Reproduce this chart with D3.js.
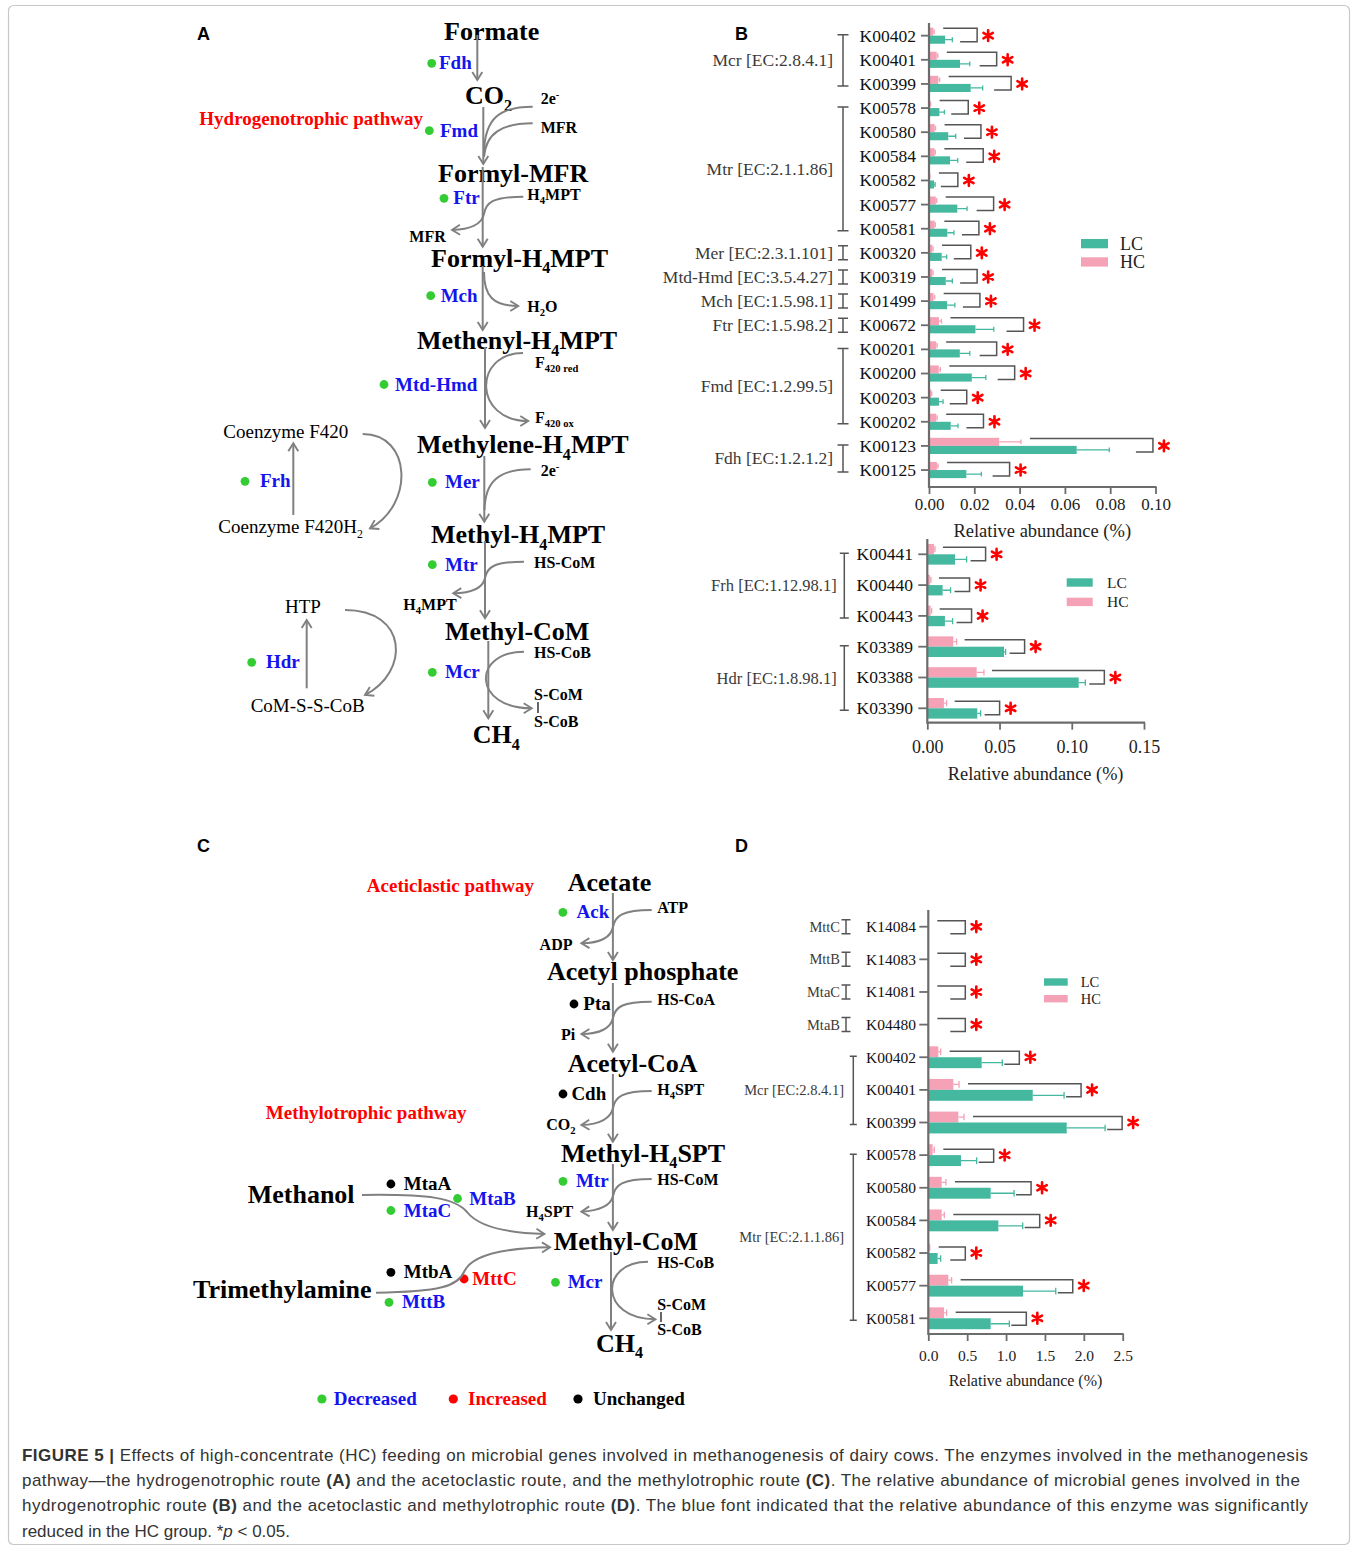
<!DOCTYPE html>
<html>
<head>
<meta charset="utf-8">
<script src="https://cdn.jsdelivr.net/npm/d3@7"></script>
<style>
  body { margin: 0; background: #fff; }
  svg { display: block; }
</style>
</head>
<body>
<script>
// ---------- data: hydrogenotrophic genes (panel B, upper) ----------
const hydroKO = ["K00402","K00401","K00399","K00578","K00580","K00584","K00582","K00577","K00581",
                 "K00320","K00319","K01499","K00672","K00201","K00200","K00203","K00202","K00123","K00125"];
const hydroLC   = [0.0071,0.0137,0.0184,0.0046,0.0085,0.0093,0.0022,0.0125,0.0081,0.0056,0.0074,0.0080,0.0205,0.0136,0.0189,0.0044,0.0096,0.0652,0.0165];
const hydroLCsd = [0.0032,0.0043,0.0053,0.0022,0.0033,0.0034,0.0005,0.0043,0.0029,0.0022,0.0029,0.0034,0.0081,0.0044,0.0062,0.0018,0.0032,0.0144,0.0066];
const hydroHC   = [0.0019,0.0034,0.0041,0.0005,0.0025,0.0025,0.0003,0.0030,0.0025,0.0015,0.0015,0.0020,0.0044,0.0032,0.0043,0.0010,0.0032,0.0310,0.0035];
const hydroHCsd = [0.0004,0.0005,0.0006,0.0002,0.0004,0.0003,0.0001,0.0004,0.0003,0.0003,0.0003,0.0005,0.0011,0.0004,0.0007,0.0002,0.0004,0.0096,0.0005];
const hydroGroups = [
  ["Mcr [EC:2.8.4.1]", "K00402", "K00399"],
  ["Mtr [EC:2.1.1.86]", "K00578", "K00581"],
  ["Mer [EC:2.3.1.101]", "K00320", "K00320"],
  ["Mtd-Hmd [EC:3.5.4.27]", "K00319", "K00319"],
  ["Mch [EC:1.5.98.1]", "K01499", "K01499"],
  ["Ftr [EC:1.5.98.2]", "K00672", "K00672"],
  ["Fmd [EC:1.2.99.5]", "K00201", "K00202"],
  ["Fdh [EC:1.2.1.2]", "K00123", "K00125"]
];
const hydroTicks = [0, 0.02, 0.04, 0.06, 0.08, 0.10];

// ---------- data: Frh / Hdr genes (panel B, lower) ----------
const frhKO = ["K00441","K00440","K00443","K03389","K03388","K03390"];
const frhLC   = [0.0192,0.0106,0.0122,0.0531,0.1048,0.0346];
const frhLCsd = [0.0080,0.0055,0.0053,0.0011,0.0046,0.0023];
const frhHC   = [0.0046,0.0018,0.0023,0.0180,0.0342,0.0115];
const frhHCsd = [0.0007,0.0007,0.0007,0.0023,0.0050,0.0019];
const frhGroups = [
  ["Frh [EC:1.12.98.1]", "K00441", "K00443"],
  ["Hdr [EC:1.8.98.1]", "K03389", "K03390"]
];
const frhTicks = [0, 0.05, 0.10, 0.15];

// ---------- data: acetoclastic / methylotrophic genes (panel D) ----------
const methKO = ["K14084","K14083","K14081","K04480","K00402","K00401","K00399",
                "K00578","K00580","K00584","K00582","K00577","K00581"];
const methLC   = [0,0,0,0,0.686,1.343,1.780,0.420,0.802,0.901,0.120,1.218,0.802];
const methLCsd = [0,0,0,0,0.266,0.403,0.494,0.202,0.301,0.313,0.039,0.421,0.240];
const methHC   = [0,0,0,0,0.129,0.322,0.386,0.056,0.172,0.172,0.013,0.257,0.202];
const methHCsd = [0,0,0,0,0.030,0.073,0.073,0.021,0.055,0.034,0.005,0.043,0.034];
const methGroups = [
  ["MttC", "K14084", "K14084"],
  ["MttB", "K14083", "K14083"],
  ["MtaC", "K14081", "K14081"],
  ["MtaB", "K04480", "K04480"],
  ["Mcr [EC:2.8.4.1]", "K00402", "K00399"],
  ["Mtr [EC:2.1.1.86]", "K00578", "K00581"]
];
const methTicks = [0, 0.5, 1.0, 1.5, 2.0, 2.5];

// every gene differs between groups at p < 0.05
const sigMark = "*";

// enzyme response to HC feeding: dec = decreased, inc = increased, unc = unchanged
const enzymeStatus = {
  Fdh: "dec", Fmd: "dec", Ftr: "dec", Mch: "dec", "Mtd-Hmd": "dec", Mer: "dec",
  Mtr: "dec", Mcr: "dec", Frh: "dec", Hdr: "dec",
  Ack: "dec", Pta: "unc", Cdh: "unc", MtaA: "unc", MtaB: "dec", MtaC: "dec",
  MtbA: "unc", MttC: "inc", MttB: "dec"
};

// ---------- styling ----------
const SERIF = '"Liberation Serif", "Times New Roman", Times, serif';
const SANS = '"Liberation Sans", Arial, Helvetica, sans-serif';
const LC = "#45b8a0", HC = "#f5a2b6";
const AXIS = "#6c6c6c", GRAY = "#808080";
const BLUE = "#1414ee", RED = "#ff0000", GREEN = "#33cc33";
const statusDot = { dec: GREEN, inc: RED, unc: "#000" };
const statusText = { dec: BLUE, inc: RED, unc: "#000" };

const svg = d3.select("body").append("svg")
  .attr("width", 1357).attr("height", 1548);
svg.append("rect").attr("width", 1357).attr("height", 1548).attr("fill", "#fff");
svg.append("rect").attr("x", 8.5).attr("y", 5.5).attr("width", 1341).attr("height", 1539)
  .attr("rx", 5).attr("fill", "none").attr("stroke", "#c8c8c8").attr("stroke-width", 1.2);

const defs = svg.append("defs");
defs.append("marker").attr("id", "arr")
  .attr("viewBox", "-10 -7 12 14").attr("refX", 0).attr("refY", 0)
  .attr("markerWidth", 12).attr("markerHeight", 14)
  .attr("markerUnits", "userSpaceOnUse").attr("orient", "auto")
  .append("path").attr("d", "M-8,-5 L0,0 L-8,5")
  .attr("fill", "none").attr("stroke", GRAY).attr("stroke-width", 1.9);

// ---------- panel letters ----------
[["A", 197, 39.5], ["B", 735, 40], ["C", 197, 852], ["D", 735, 852]].forEach(([t, x, y]) =>
  svg.append("text").attr("x", x).attr("y", y).attr("font-family", SANS)
    .attr("font-weight", "bold").attr("font-size", 18).text(t));

// ---------- text with sub/superscripts: "H_{4}MPT", "2e^{-}" ----------
function rich(g, x, y, str, size, opt = {}) {
  const t = g.append("text").attr("x", x).attr("y", y).attr("font-size", size)
    .attr("font-weight", opt.weight || "bold").attr("fill", opt.fill || "#000");
  let off = 0;
  const re = /([_^])\{([^}]*)\}|([^_^]+)/g;
  let m;
  while ((m = re.exec(str))) {
    if (m[3]) {
      t.append("tspan").attr("dy", -off).text(m[3]);
      off = 0;
    } else {
      const s = m[1] === "_" ? size * 0.26 : -size * 0.4;
      t.append("tspan").attr("dy", s - off).attr("font-size", size * (opt.sub || 0.62)).text(m[2]);
      off = s;
    }
  }
  return t;
}

function arrowLine(g, d, head = true) {
  const p = g.append("path").attr("d", d).attr("fill", "none")
    .attr("stroke", GRAY).attr("stroke-width", 2);
  if (head) p.attr("marker-end", "url(#arr)");
  return p;
}

function enzyme(g, name, x, y, dotX) {
  const st = enzymeStatus[name];
  g.append("circle").attr("cx", dotX).attr("cy", y - 6).attr("r", 4.4).attr("fill", statusDot[st]);
  rich(g, x, y, name, 19, { fill: statusText[st] });
}

// ---------- panel A: hydrogenotrophic pathway ----------
const gA = svg.append("g").attr("font-family", SERIF);
[
  ["Formate", 444, 39.5], ["CO_{2}", 465, 104], ["Formyl-MFR", 438, 181.7],
  ["Formyl-H_{4}MPT", 431, 266.7], ["Methenyl-H_{4}MPT", 417, 349.3],
  ["Methylene-H_{4}MPT", 417, 453.3], ["Methyl-H_{4}MPT", 431, 543.3],
  ["Methyl-CoM", 445, 640], ["CH_{4}", 472.7, 743.3]
].forEach(([t, x, y]) => rich(gA, x, y, t, 26));

[
  ["2e^{-}", 540.7, 104], ["MFR", 540.7, 132.7], ["H_{4}MPT", 527.3, 200], ["MFR", 409.3, 241.7],
  ["H_{2}O", 527.3, 311.7], ["F_{420 red}", 535, 368.3], ["F_{420 ox}", 535, 423.3],
  ["2e^{-}", 540.7, 476], ["HS-CoM", 534, 568.3], ["H_{4}MPT", 403.3, 610],
  ["HS-CoB", 534, 658.3], ["S-CoM", 534, 700], ["S-CoB", 534, 726.7]
].forEach(([t, x, y]) => rich(gA, x, y, t, 16, { sub: 0.66 }));
gA.append("line").attr("x1", 538).attr("x2", 538).attr("y1", 702).attr("y2", 713)
  .attr("stroke", "#000").attr("stroke-width", 1.2);

[
  ["Coenzyme F420", 223.3, 438.3], ["Coenzyme F420H_{2}", 218.3, 532.7],
  ["HTP", 285, 613.3], ["CoM-S-S-CoB", 250.7, 711.7]
].forEach(([t, x, y]) => rich(gA, x, y, t, 19, { weight: "normal" }));

rich(gA, 199.3, 125, "Hydrogenotrophic pathway", 19, { fill: RED });

[
  ["Fdh", 439, 69.3, 431.7], ["Fmd", 440, 136.7, 429.3], ["Ftr", 453.3, 204.3, 444],
  ["Mch", 440.7, 301.7, 430.7], ["Mtd-Hmd", 395, 390.5, 384], ["Mer", 445, 488.3, 432.3],
  ["Mtr", 445, 570.7, 432.3], ["Mcr", 445, 678.3, 432.3], ["Frh", 260, 487.3, 245],
  ["Hdr", 266, 668.3, 251.7]
].forEach(([n, x, y, dx]) => enzyme(gA, n, x, y, dx));

// main chain and side reactions
[
  "M477.3,35 V80", "M483.3,107 V164", "M482.7,167 V246.7", "M482.7,266 V330",
  "M485,347 V428", "M484.3,456 V521.7", "M485,541 V618.3", "M488.3,641 V718.3",
  "M293.3,515 V443.3", "M306.7,688.3 V620"
].forEach(d => arrowLine(gA, d));
[
  "M532.7,106.7 C500,106.7 485,118 484,152",
  "M532.7,123.3 C502,123.3 486,133 484,157"
].forEach(d => arrowLine(gA, d, false));
[
  "M523.3,196.7 C492,196.7 486,203 484,214 C482,224 470,229.5 452,230",
  "M484,272 C484,296 493,306 518.3,306",
  "M523,353 C473,353 473,421 528.3,421",
  "M524,561.7 C494,561.7 487,567 485,578 C483,588 471,593 453.3,593.3",
  "M524,651.7 C472,651.7 472,708.3 531.7,708.3",
  "M362.7,434 C412,434 414,505 370,528.3",
  "M345,610 C408,610 410,672 365,695"
].forEach(d => arrowLine(gA, d));
arrowLine(gA, "M530.7,469.3 C498,469.3 485,482 484.5,510", false);

// ---------- panel C: aceticlastic and methylotrophic pathways ----------
const gC = svg.append("g").attr("font-family", SERIF);
[
  ["Acetate", 567.7, 890.7], ["Acetyl phosphate", 547, 980], ["Acetyl-CoA", 567.7, 1071.7],
  ["Methyl-H_{4}SPT", 561, 1161.7], ["Methyl-CoM", 553.7, 1250], ["CH_{4}", 596, 1351.7],
  ["Methanol", 247.7, 1203.3], ["Trimethylamine", 193, 1298.3]
].forEach(([t, x, y]) => rich(gC, x, y, t, 26));

[
  ["ATP", 657.2, 913.3], ["ADP", 539.6, 950], ["HS-CoA", 657.2, 1005], ["Pi", 561, 1040],
  ["H_{4}SPT", 657.2, 1095], ["CO_{2}", 546.3, 1130], ["HS-CoM", 657.2, 1184.5],
  ["H_{4}SPT", 526, 1217.3], ["HS-CoB", 657.2, 1268], ["S-CoM", 657.2, 1310],
  ["S-CoB", 657.2, 1335]
].forEach(([t, x, y]) => rich(gC, x, y, t, 16, { sub: 0.66 }));
gC.append("line").attr("x1", 661).attr("x2", 661).attr("y1", 1312).attr("y2", 1322)
  .attr("stroke", "#000").attr("stroke-width", 1.2);

rich(gC, 366.8, 891.7, "Aceticlastic pathway", 19, { fill: RED });
rich(gC, 265.8, 1119.3, "Methylotrophic pathway", 19, { fill: RED });

[
  ["Ack", 576.6, 918.3, 562.9], ["Pta", 583.3, 1010, 574], ["Cdh", 571.4, 1100, 563],
  ["Mtr", 575.9, 1187.3, 563], ["Mcr", 567.7, 1288.3, 555.5],
  ["MtaA", 403.8, 1190, 390.9], ["MtaC", 403.8, 1216.5, 390.9], ["MtaB", 469.3, 1204.5, 457.5],
  ["MtbA", 403.8, 1278.3, 390.9], ["MttC", 472.3, 1285, 464.1], ["MttB", 402, 1308.3, 389]
].forEach(([n, x, y, dx]) => enzyme(gC, n, x, y, dx));

[
  "M612.9,893 V960", "M612.9,983 V1051.7", "M612.9,1074 V1141.7",
  "M612.9,1164 V1230", "M611,1252 V1330",
  "M651.7,910 C622,910 615,916 613,927 C611,937 600,943 581.4,943.3",
  "M651.7,1001.7 C622,1001.7 615,1007 613,1018 C611,1028 600,1034 581.4,1034",
  "M651.7,1091 C622,1091 615,1097 613,1108 C611,1118 600,1124.5 581.4,1125",
  "M651.7,1179 C622,1179 615,1185 613,1196 C611,1205 600,1211 581.4,1211.7",
  "M648,1261.7 C599,1261.7 599,1319.3 655.4,1319.3",
  "M362,1195 C430,1194 455,1198 467,1212 C478,1226 505,1233 544.4,1234",
  "M376,1292.7 C440,1292 458,1286 464,1272 C472,1254 505,1248 550,1247.3"
].forEach(d => arrowLine(gC, d));

// status legend
[["dec", "Decreased", 321.9, 333.7], ["inc", "Increased", 453.3, 468], ["unc", "Unchanged", 578, 593]]
  .forEach(([s, t, dx, tx]) => {
    gC.append("circle").attr("cx", dx).attr("cy", 1399).attr("r", 4.6).attr("fill", statusDot[s]);
    rich(gC, tx, 1405, t, 19, { fill: statusText[s] });
  });

// ---------- grouped horizontal bar chart ----------
function starPath(cx, cy, r) {
  const p = d3.path();
  for (let i = 0; i < 3; i++) {
    const a = Math.PI / 2 + i * Math.PI / 3;
    p.moveTo(cx + r * Math.cos(a), cy + r * Math.sin(a));
    p.lineTo(cx - r * Math.cos(a), cy - r * Math.sin(a));
  }
  return p.toString();
}

function barPanel(o) {
  const g = svg.append("g").attr("font-family", SERIF);
  const x = d3.scaleLinear().domain([0, o.max]).range(o.xr);
  const y = d3.scaleBand().domain(o.ko).range(o.yr);
  const st = y.step(), bh = st * 0.335, x0 = x(0);
  const c = k => y(k) + st / 2;
  const rows = o.ko.map((k, i) => ({
    k, lc: o.lc[i], lcSd: o.lcSd[i], hc: o.hc[i], hcSd: o.hcSd[i]
  }));

  // bars
  g.selectAll("rect.hc").data(rows.filter(d => d.hc > 0)).join("rect")
    .attr("x", x0).attr("y", d => c(d.k) - bh)
    .attr("width", d => x(d.hc) - x0).attr("height", bh).attr("fill", HC);
  g.selectAll("rect.lc").data(rows.filter(d => d.lc > 0)).join("rect")
    .attr("x", x0).attr("y", d => c(d.k))
    .attr("width", d => x(d.lc) - x0).attr("height", bh).attr("fill", LC);

  // error bars
  const cap = bh * 0.3;
  const err = (v, sd, yc) => {
    const a = x(v), b = x(v + sd);
    return `M${a},${yc} H${b} M${b},${yc - cap} V${yc + cap}`;
  };
  g.selectAll("path.ehc").data(rows.filter(d => d.hcSd > 0)).join("path")
    .attr("d", d => err(d.hc, d.hcSd, c(d.k) - bh / 2))
    .attr("stroke", HC).attr("stroke-width", 1.3).attr("fill", "none");
  g.selectAll("path.elc").data(rows.filter(d => d.lcSd > 0)).join("path")
    .attr("d", d => err(d.lc, d.lcSd, c(d.k) + bh / 2))
    .attr("stroke", LC).attr("stroke-width", 1.3).attr("fill", "none");

  // significance brackets and stars
  const br = rows.map(d => {
    const le = x(d.lc + d.lcSd), he = x(d.hc + d.hcSd);
    const reach = Math.max(le - x0 + o.pad(le - x0), o.minReach || 0);
    const r = x0 + reach;
    return { k: d.k, r, tl: he + o.topGap, bl: r - o.botLen };
  });
  g.selectAll("path.br").data(br).join("path")
    .attr("d", d => `M${d.tl},${c(d.k) - o.up} H${d.r} V${c(d.k) + o.dn} H${d.bl}`)
    .attr("fill", "none").attr("stroke", "#555").attr("stroke-width", 1.5);
  g.selectAll("path.star").data(br).join("path")
    .attr("d", d => starPath(d.r + 11, c(d.k), 5.4))
    .attr("stroke", RED).attr("stroke-width", 2.6).attr("stroke-linecap", "round")
    .attr("aria-label", sigMark);

  // y axis (gene labels)
  const ya = g.append("g").attr("transform", `translate(${x0},0)`)
    .call(d3.axisLeft(y).tickSize(o.tickLen).tickSizeOuter(0));
  ya.select(".domain").remove();
  ya.selectAll(".tick line").attr("stroke", AXIS).attr("stroke-width", 1.8);
  ya.selectAll(".tick text").attr("x", o.koEnd - x0).attr("dy", "0.34em")
    .attr("font-family", SERIF).attr("font-size", o.koFont).attr("fill", "#111");

  // x axis
  const xa = g.append("g").attr("transform", `translate(0,${o.axisY})`)
    .call(d3.axisBottom(x).tickValues(o.ticks).tickFormat(d3.format(o.fmt)).tickSize(7).tickSizeOuter(0));
  xa.select(".domain").remove();
  xa.selectAll(".tick line").attr("stroke", AXIS).attr("stroke-width", 1.8);
  xa.selectAll(".tick text").attr("y", o.tickBase - o.axisY).attr("dy", null)
    .attr("font-family", SERIF).attr("font-size", o.tickFont).attr("fill", "#222");

  g.append("path").attr("d", `M${x0},${o.yTop} V${o.axisY} H${o.xr[1] + 1}`)
    .attr("fill", "none").attr("stroke", AXIS).attr("stroke-width", 2.2);

  g.append("text").attr("x", (o.xr[0] + o.xr[1]) / 2).attr("y", o.titleBase)
    .attr("text-anchor", "middle").attr("font-size", o.titleFont).attr("fill", "#222")
    .text("Relative abundance (%)");

  // enzyme groups
  o.groups.forEach(([name, a, b]) => {
    const single = a === b;
    const bx = single ? o.gx1 : o.gxN;
    const ya0 = single ? c(a) - 7 : c(a) - 1;
    const yb0 = single ? c(a) + 7 : c(b) + 2;
    const hw = single ? o.cap1 : o.capN;
    g.append("path")
      .attr("d", `M${bx - hw},${ya0} H${bx + hw} M${bx},${ya0} V${yb0} M${bx - hw},${yb0} H${bx + hw}`)
      .attr("fill", "none").attr("stroke", "#555").attr("stroke-width", 1.5);
    g.append("text").attr("x", bx - (single ? o.lg1 : o.lgN))
      .attr("y", (ya0 + yb0) / 2).attr("dy", "0.34em").attr("text-anchor", "end")
      .attr("font-size", o.grpFont).attr("fill", "#3a3a3a").text(name);
  });

  // legend
  [["LC", LC, o.leg.yLC], ["HC", HC, o.leg.yHC]].forEach(([t, col, yy]) => {
    g.append("rect").attr("x", o.leg.x).attr("y", yy).attr("width", o.leg.w).attr("height", o.leg.h)
      .attr("fill", col);
    g.append("text").attr("x", o.leg.tx).attr("y", yy + o.leg.h / 2).attr("dy", "0.35em")
      .attr("font-size", o.leg.font).attr("fill", "#222").text(t);
  });
}

barPanel({
  ko: hydroKO, lc: hydroLC, lcSd: hydroLCsd, hc: hydroHC, hcSd: hydroHCsd, groups: hydroGroups,
  max: 0.10, xr: [929, 1155.5], yr: [23.6, 482.1], yTop: 23, axisY: 487,
  ticks: hydroTicks, fmt: ".2f", tickBase: 510, tickFont: 17, titleBase: 536.5, titleFont: 18.5,
  tickLen: 8, koEnd: 916, koFont: 17.5,
  pad: px => 22 + 0.12 * px, topGap: 9, botLen: 17, up: 7.5, dn: 6,
  gx1: 843, gxN: 843, cap1: 5, capN: 5.5, lg1: 10, lgN: 10, grpFont: 17.5,
  leg: { x: 1081, w: 27, h: 9.3, yLC: 239, yHC: 257.3, tx: 1120, font: 18 }
});

barPanel({
  ko: frhKO, lc: frhLC, lcSd: frhLCsd, hc: frhHC, hcSd: frhHCsd, groups: frhGroups,
  max: 0.15, xr: [927.3, 1144], yr: [538.9, 723.7], yTop: 539, axisY: 722.7,
  ticks: frhTicks, fmt: ".2f", tickBase: 752.7, tickFont: 18, titleBase: 780, titleFont: 18.3,
  tickLen: 9, koEnd: 913, koFont: 17.5,
  pad: () => 19, topGap: 8, botLen: 15, up: 7, dn: 6.5,
  gx1: 844.3, gxN: 844.3, cap1: 4.5, capN: 4.5, lg1: 7.6, lgN: 7.6, grpFont: 16.5,
  leg: { x: 1066.7, w: 26, h: 8.4, yLC: 578.3, yHC: 597.7, tx: 1107, font: 15.5 }
});

barPanel({
  ko: methKO, lc: methLC, lcSd: methLCsd, hc: methHC, hcSd: methHCsd, groups: methGroups,
  max: 2.5, xr: [928.3, 1122.7], yr: [910.4, 1334.6], yTop: 910, axisY: 1334,
  ticks: methTicks, fmt: ".1f", tickBase: 1361, tickFont: 15.5, titleBase: 1385.5, titleFont: 16,
  tickLen: 9, koEnd: 916, koFont: 15.5,
  pad: () => 17, minReach: 37, topGap: 9, botLen: 15, up: 6, dn: 7,
  gx1: 846, gxN: 853.3, cap1: 4.5, capN: 3.5, lg1: 6, lgN: 9.3, grpFont: 14.5,
  leg: { x: 1044, w: 23.7, h: 7.4, yLC: 978.3, yHC: 995, tx: 1080.7, font: 14.5 }
});

// ---------- figure caption ----------
const cap = svg.append("g").attr("font-family", SANS).attr("font-size", 17).attr("fill", "#333");
const capLines = [
  [[["b", "FIGURE 5 |"], ["", " Effects of high-concentrate (HC) feeding on microbial genes involved in methanogenesis of dairy cows. The enzymes involved in the methanogenesis"]], 1286],
  [[["", "pathway\u2014the hydrogenotrophic route "], ["b", "(A)"], ["", " and the acetoclastic route, and the methylotrophic route "], ["b", "(C)"], ["", ". The relative abundance of microbial genes involved in the"]], 1278],
  [[["", "hydrogenotrophic route "], ["b", "(B)"], ["", " and the acetoclastic and methylotrophic route "], ["b", "(D)"], ["", ". The blue font indicated that the relative abundance of this enzyme was significantly"]], 1286],
  [[["", "reduced in the HC group. *"], ["i", "p"], ["", " < 0.05."]], null]
];
capLines.forEach(([parts, len], i) => {
  const t = cap.append("text").attr("x", 22).attr("y", 1461 + i * 25.2);
  if (len) t.attr("textLength", len).attr("lengthAdjust", "spacing");
  parts.forEach(([s, txt]) => {
    const sp = t.append("tspan").text(txt);
    if (s === "b") sp.attr("font-weight", "bold");
    if (s === "i") sp.attr("font-style", "italic");
  });
});
</script>
</body>
</html>
